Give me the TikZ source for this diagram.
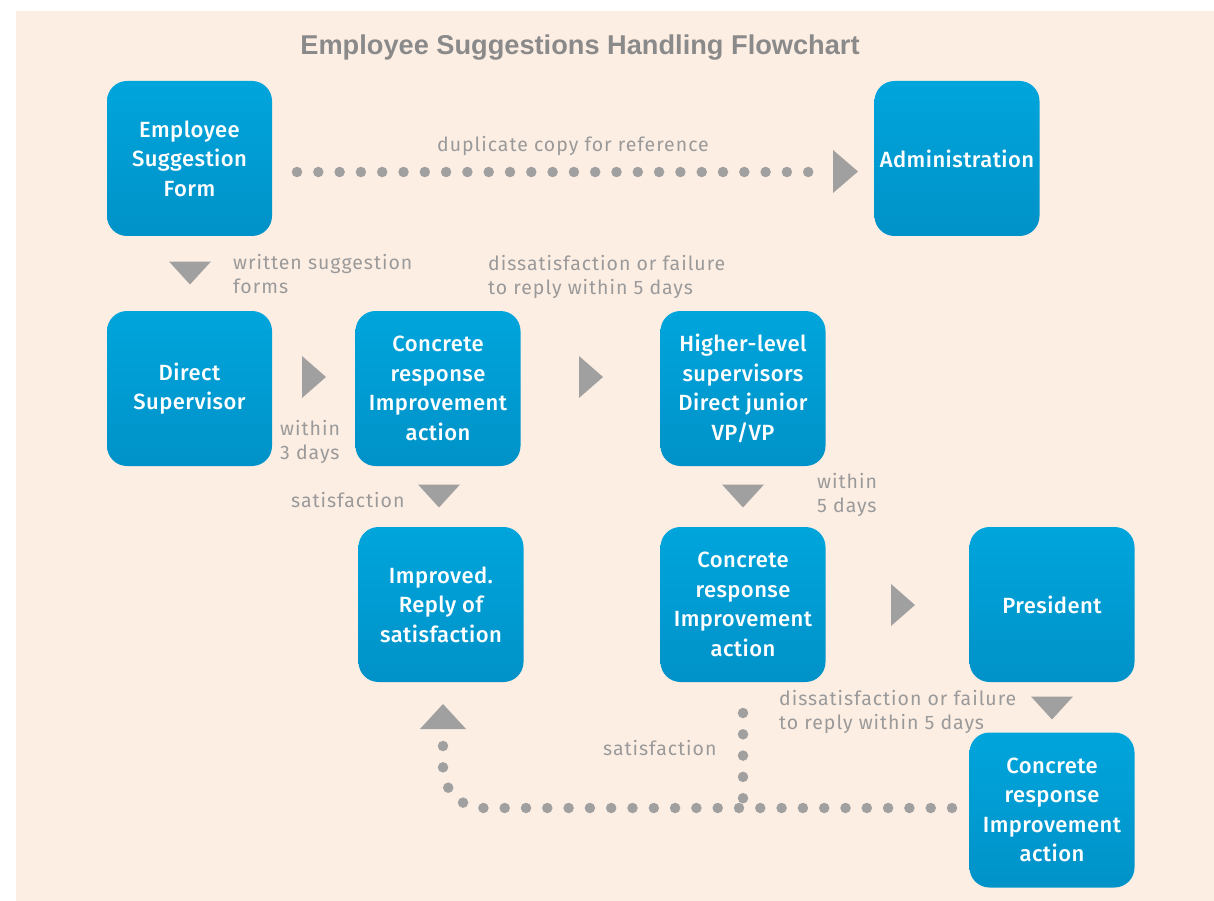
\documentclass[tikz,border=0pt]{standalone}
\usepackage{fontspec}
\setmainfont{Fira Sans}
\newfontfamily\boxfont[LetterSpace=2,UprightFont=* Medium]{Fira Sans}
\newfontfamily\lblfont[LetterSpace=5]{Fira Sans}
\newfontfamily\titlefont{Liberation Sans}
\usetikzlibrary{calc}
\definecolor{bg}{HTML}{FDEEE4}
\definecolor{boxtop}{HTML}{00A5DC}
\definecolor{boxbot}{HTML}{0092C8}
\definecolor{dotgray}{HTML}{A0A0A0}
\definecolor{lblgray}{HTML}{9A9A9A}
\definecolor{titlegray}{HTML}{8A8A8A}
\newcommand\TriDown[2]{\fill[tri] (#1-21,#2-11.5) -- (#1+21,#2-11.5) -- (#1,#2+11.5) -- cycle;}
\newcommand\TriRight[2]{\fill[tri] (#1-12,#2-21) -- (#1+12,#2) -- (#1-12,#2+21) -- cycle;}
\newcommand\TriUp[2]{\fill[tri] (#1-23,#2+12.5) -- (#1+23,#2+12.5) -- (#1,#2-12.5) -- cycle;}
\begin{document}
\begin{tikzpicture}[x=1pt,y=-1pt,
  box/.style={rounded corners=20pt, top color=boxtop, bottom color=boxbot, draw=none,
    minimum width=165pt, minimum height=155pt, text=white, align=center, inner sep=0pt,
    font=\boxfont\fontsize{22}{29.5}\selectfont},
  lbl/.style={text=lblgray, align=left, inner sep=0pt, font=\lblfont\fontsize{19.5}{24}\selectfont},
  dotline/.style={draw=dotgray, line width=10.5pt, line cap=round, dash pattern=on 0pt off 21.3pt},
  tri/.style={fill=dotgray}]
\useasboundingbox (0,0) rectangle (1214,901);
\fill[white] (0,0) rectangle (1214,901);
\fill[bg] (16,11) rectangle (1214,901);

\node[font=\titlefont\bfseries\fontsize{27.2}{30}\selectfont, text=titlegray, anchor=base] (title) at (580,55) {Employee Suggestions Handling Flowchart};

\node[box] (form) at (189.5,158.5) {Employee\\Suggestion\\Form};
\node[box] (admin) at (957,158.5) {Administration};
\node[box] (ds) at (189.5,388.5) {Direct\\Supervisor};
\node[box] (cr1) at (438,388.5) {Concrete\\response\\Improvement\\action};
\node[box] (hl) at (743,388.5) {Higher-level\\supervisors\\Direct junior\\VP/VP};
\node[box] (imp) at (441,604.5) {Improved.\\Reply of\\satisfaction};
\node[box] (cr2) at (743,604.5) {Concrete\\response\\Improvement\\action};
\node[box] (pres) at (1052,604.5) {President};
\node[box] (cr3) at (1052,810) {Concrete\\response\\Improvement\\action};

\TriDown{190}{273}
\TriDown{439}{496}
\TriDown{743}{496}
\TriDown{1052}{708}
\TriRight{314}{377}
\TriRight{591}{377}
\TriRight{903}{605}
\TriUp{443}{716.5}
\fill[tri] (833,150) -- (858,171.5) -- (833,193) -- cycle;

\coordinate (topstart) at (297,172);
\coordinate (topend) at (810,172);
\draw[dotline] (topstart) -- (topend);
\coordinate (b1) at (952,808);
\coordinate (b2) at (443,808);
\coordinate (b3) at (443,742);
\draw[dotline, rounded corners=40pt] (b1) -- (b2) -- (b3);
\coordinate (v1) at (743,713);
\coordinate (v2) at (743,808);
\draw[dotline] (v1) -- (v2);

\node[lbl, anchor=base west] (l1) at (437,152) {duplicate copy for reference};
\node[lbl, anchor=north west] (l2) at (233,254) {written suggestion\\forms};
\node[lbl, anchor=north west] (l3) at (488,255) {dissatisfaction or failure\\to reply within 5 days};
\node[lbl, anchor=north west] (l4) at (280,420) {within\\3 days};
\node[lbl, anchor=base west] (l5) at (291,507) {satisfaction};
\node[lbl, anchor=north west] (l6) at (817,473) {within\\5 days};
\node[lbl, anchor=north west] (l7) at (779,690) {dissatisfaction or failure\\to reply within 5 days};
\node[lbl, anchor=base west] (l8) at (603,755) {satisfaction};
\end{tikzpicture}
\end{document}
